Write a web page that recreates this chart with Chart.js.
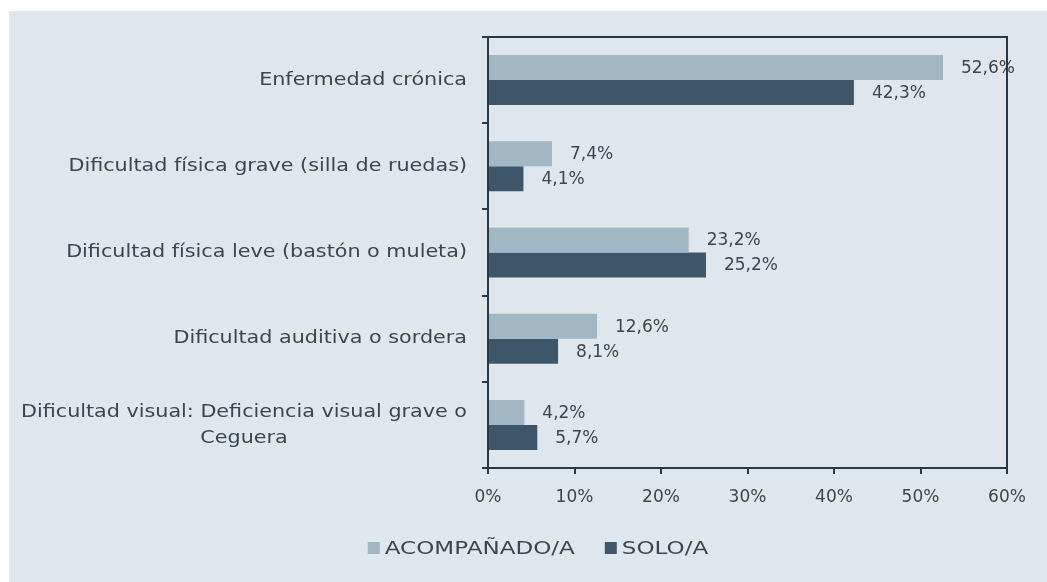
<!DOCTYPE html>
<html>
<head>
<meta charset="utf-8">
<script src="https://cdn.jsdelivr.net/npm/chart.js@4/dist/chart.umd.min.js"></script>
<style>
  html, body { margin: 0; padding: 0; background: #ffffff; }
  #panel { position: absolute; left: 9px; top: 11px; width: 1038px; height: 571px; background: #dfe6ec; }
</style>
</head>
<body>
<div id="panel"><canvas id="saludChart"></canvas></div>
<script>
// datos
const categorias = [
  'Enfermedad crónica',
  'Dificultad física grave (silla de ruedas)',
  'Dificultad física leve (bastón o muleta)',
  'Dificultad auditiva o sordera',
  ['Dificultad visual: Deficiencia visual grave o', 'Ceguera']
];
const acompanado = [52.6, 7.4, 23.2, 12.6, 4.2];
const solo = [42.3, 4.1, 25.2, 8.1, 5.7];
const series = ['ACOMPAÑADO/A', 'SOLO/A'];
const ticksX = [0, 10, 20, 30, 40, 50, 60];

const txtColor = '#3b4650';
const axisColor = '#263845';
const fuente = 'DejaVu Sans';

// texto ensanchado horizontalmente (la fuente original es muy ancha)
function textoAncho(ctx, txt, x, y, sx) {
  ctx.save();
  ctx.translate(x, y);
  ctx.scale(sx, 1);
  ctx.fillText(txt, 0, 0);
  ctx.restore();
}

const etiquetasY = {
  id: 'etiquetasY',
  afterDraw(chart) {
    const ctx = chart.ctx;
    const y = chart.scales.y;
    const right = chart.chartArea.left - 21;
    const sx = 1.15;
    ctx.save();
    ctx.font = '18px "' + fuente + '"';
    ctx.fillStyle = txtColor;
    ctx.textBaseline = 'middle';
    ctx.textAlign = 'center';
    categorias.forEach((cat, i) => {
      const lines = Array.isArray(cat) ? cat : [cat];
      const w = Math.max(...lines.map(l => ctx.measureText(l).width)) * sx;
      const cx = right - w / 2;
      const lh = 26;
      const yc = y.getPixelForValue(i);
      lines.forEach((l, j) => {
        textoAncho(ctx, l, cx, yc + (j - (lines.length - 1) / 2) * lh, sx);
      });
    });
    ctx.restore();
  }
};

const valores = {
  id: 'valores',
  afterDatasetsDraw(chart) {
    const ctx = chart.ctx;
    ctx.save();
    ctx.font = '17px "' + fuente + '"';
    ctx.fillStyle = txtColor;
    ctx.textBaseline = 'middle';
    ctx.textAlign = 'left';
    chart.data.datasets.forEach((ds, di) => {
      chart.getDatasetMeta(di).data.forEach((bar, i) => {
        const txt = ds.data[i].toFixed(1).replace('.', ',') + '%';
        ctx.fillText(txt, bar.x + 18, bar.y + 1);
      });
    });
    ctx.restore();
  }
};

const marco = {
  id: 'marco',
  afterDraw(chart) {
    const a = chart.chartArea;
    const ctx = chart.ctx;
    ctx.save();
    ctx.strokeStyle = axisColor;
    ctx.lineWidth = 2;
    ctx.beginPath();
    ctx.moveTo(a.left - 6, a.top);
    ctx.lineTo(a.right, a.top);
    ctx.lineTo(a.right, a.bottom);
    ctx.stroke();
    ctx.restore();
  }
};

// leyenda dibujada a mano para imitar la tipografía ancha
const leyenda = {
  id: 'leyenda',
  afterDraw(chart) {
    const ctx = chart.ctx;
    const sx = 1.28;
    ctx.save();
    ctx.font = '18px "' + fuente + '"';
    ctx.textBaseline = 'middle';
    ctx.textAlign = 'left';
    const box = 12, gapTxt = 5, gapItem = 30;
    const items = chart.data.datasets.map(ds => ({
      label: ds.label, color: ds.backgroundColor, w: ctx.measureText(ds.label).width * sx
    }));
    const total = items.reduce((s, it) => s + box + gapTxt + it.w, 0) + gapItem * (items.length - 1);
    let x = chart.width / 2 + 10 - total / 2;
    const yc = 537;
    items.forEach(it => {
      ctx.fillStyle = it.color;
      ctx.fillRect(x, yc - box / 2, box, box);
      x += box + gapTxt;
      ctx.fillStyle = txtColor;
      textoAncho(ctx, it.label, x, yc + 1, sx);
      x += it.w + gapItem;
    });
    ctx.restore();
  }
};

const ctx = document.getElementById('saludChart').getContext('2d');
new Chart(ctx, {
  type: 'bar',
  data: {
    labels: categorias,
    datasets: [
      { label: series[0], data: acompanado, backgroundColor: '#a1b7c3', borderWidth: 0 },
      { label: series[1], data: solo, backgroundColor: '#3d5669', borderWidth: 0 }
    ]
  },
  options: {
    indexAxis: 'y',
    responsive: true,
    maintainAspectRatio: false,
    animation: false,
    categoryPercentage: 0.58,
    barPercentage: 1.0,
    layout: { padding: { top: 26, right: 40, bottom: 54, left: 0 } },
    scales: {
      x: {
        min: 0,
        max: 60,
        afterBuildTicks: s => { s.ticks = ticksX.map(v => ({ value: v })); },
        afterFit: s => { s.height = 60; },
        grid: { drawOnChartArea: false, color: axisColor, lineWidth: 2, tickLength: 6 },
        border: { color: axisColor, width: 2 },
        ticks: {
          color: txtColor,
          font: { family: fuente, size: 17 },
          padding: 13,
          callback: v => v + '%'
        }
      },
      y: {
        afterFit: s => { s.width = 479; },
        grid: { drawOnChartArea: false, color: axisColor, lineWidth: 2, tickLength: 6 },
        border: { color: axisColor, width: 2 },
        ticks: { display: false }
      }
    },
    plugins: {
      tooltip: { enabled: false },
      legend: { display: false }
    }
  },
  plugins: [etiquetasY, valores, marco, leyenda]
});
</script>
</body>
</html>
